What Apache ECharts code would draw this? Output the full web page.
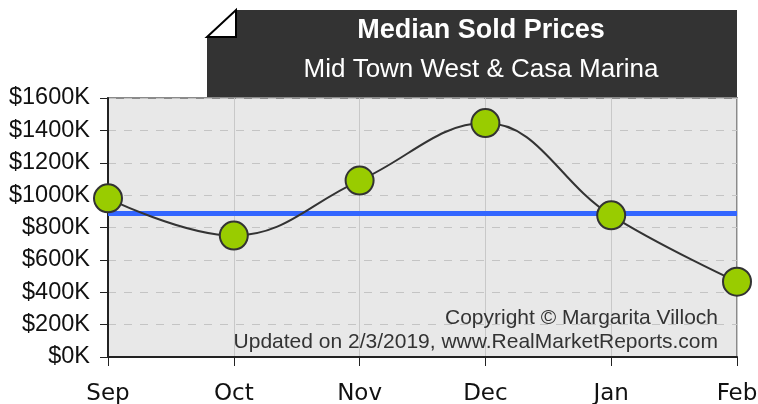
<!DOCTYPE html>
<html>
<head>
<meta charset="utf-8">
<script src="https://cdn.jsdelivr.net/npm/echarts@6/dist/echarts.min.js"></script>
<style>
  html, body { margin: 0; padding: 0; background: #fff; }
  #main { width: 758px; height: 404px; }
</style>
</head>
<body>
<div id="main"></div>
<script>
// data
var months = ['Sep', 'Oct', 'Nov', 'Dec', 'Jan', 'Feb'];
var prices = [980, 750, 1090, 1445, 875, 465]; // $K
var avgLine = 890;

var chart = echarts.init(document.getElementById('main'));

var option = {
  animation: false,
  title: {
    text: 'Median Sold Prices',
    subtext: 'Mid Town West & Casa Marina',
    left: 476,
    top: 12,
    textAlign: 'center',
    itemGap: 13,
    textStyle: { color: '#fff', fontSize: 27, fontWeight: 'bold', fontFamily: 'Liberation Sans' },
    subtextStyle: { color: '#fff', fontSize: 26, fontFamily: 'Liberation Sans' },
    z: 10
  },
  grid: {
    left: 108, right: 21, top: 98, bottom: 47,
    outerBoundsMode: 'none',
    show: true,
    backgroundColor: '#e8e8e8',
    borderColor: '#8a8a8a',
    borderWidth: 2
  },
  graphic: [
    {
      // dark title box with the folded corner
      type: 'polygon',
      z: 5,
      shape: { points: [[236, 10], [737, 10], [737, 97], [207, 97], [207, 37]] },
      style: { fill: '#333333' }
    },
    {
      type: 'polygon',
      z: 6,
      shape: { points: [[207, 37], [236, 10], [236, 37]] },
      style: { fill: '#fff', stroke: '#000', lineWidth: 2 }
    },
    {
      type: 'text',
      z: 20,
      x: 718,
      y: 318,
      style: {
        text: 'Copyright © Margarita Villoch',
        align: 'right',
        verticalAlign: 'middle',
        fill: '#333',
        font: '21px "Liberation Sans"'
      }
    },
    {
      type: 'text',
      z: 20,
      x: 718,
      y: 342,
      style: {
        text: 'Updated on 2/3/2019, www.RealMarketReports.com',
        align: 'right',
        verticalAlign: 'middle',
        fill: '#333',
        font: '21px "Liberation Sans"'
      }
    }
  ],
  xAxis: {
    type: 'category',
    data: months,
    boundaryGap: false,
    axisLine: { lineStyle: { color: '#222', width: 2 } },
    axisTick: { show: true, length: 9, lineStyle: { color: '#222' } },
    axisLabel: { color: '#111', fontSize: 23, fontFamily: 'DejaVu Sans', margin: 26 },
    splitLine: { show: true, lineStyle: { color: '#c8c8c8', width: 1 } }
  },
  yAxis: {
    type: 'value',
    min: 0,
    max: 1600,
    interval: 200,
    axisLine: { show: true, lineStyle: { color: '#222', width: 2 } },
    axisTick: { show: true, length: 8, lineStyle: { color: '#222' } },
    axisLabel: {
      color: '#111', fontSize: 23.5, fontFamily: 'Liberation Sans', margin: 18,
      formatter: function (v) { return '$' + v + 'K'; }
    },
    splitLine: { lineStyle: { color: '#c4c4c4', type: [8, 8] } }
  },
  series: [
    {
      type: 'line',
      data: prices,
      smooth: 0.4,
      symbol: 'circle',
      symbolSize: 28,
      lineStyle: { color: '#333', width: 2 },
      itemStyle: { color: '#99cc00', borderColor: '#333', borderWidth: 2 },
      z: 4,
      markLine: {
        silent: true,
        symbol: 'none',
        label: { show: false },
        lineStyle: { color: '#3366ff', width: 5, type: 'solid' },
        data: [{ yAxis: avgLine }],
        z: 3
      }
    }
  ]
};

chart.setOption(option);
</script>
</body>
</html>
